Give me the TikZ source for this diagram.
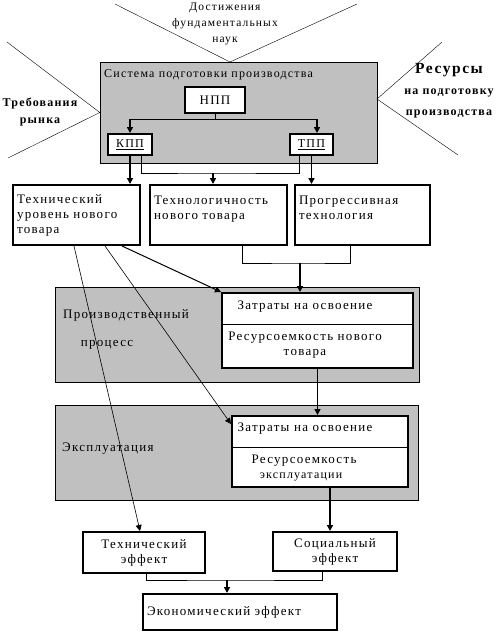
\documentclass[tikz,border=0pt]{standalone}
\usepackage{fontspec}
\setmainfont{Liberation Serif}[LetterSpace=10]
\usetikzlibrary{arrows.meta}
\definecolor{panelgray}{RGB}{192,192,192}
\newcommand{\boxfont}{\fontsize{13}{15}\selectfont}
\newcommand{\titlefont}{\fontsize{12}{16}\selectfont}
\tikzstyle{panel}=[draw, thin, fill=panelgray, inner sep=0pt]
\tikzstyle{block}=[draw, line width=2pt, fill=white, inner sep=4pt, align=left, font=\boxfont]
\tikzstyle{caption}=[inner sep=0pt, font=\boxfont]
\tikzstyle{feed}=[line width=1.6pt, -{Triangle[length=6pt,width=6pt]}]
\tikzstyle{wire}=[thin]
\tikzstyle{ray}=[thin]

\begin{document}
\begin{tikzpicture}[x=1pt, y=-1pt]
  \useasboundingbox (0,0) rectangle (497,632);
  % outside influences
  \coordinate (sciL) at (115,4);
  \coordinate (sciR) at (357,4);
  \coordinate (sciapex) at (230,62);
  \coordinate (mktU) at (7,42);
  \coordinate (mktD) at (8,158);
  \coordinate (resU) at (442,42);
  \coordinate (resD) at (458,155);
  \coordinate (resapex) at (377,99);
  \node[caption, font=\fontsize{11.5}{16}\selectfont, align=center] (sci) at (225,24)
    {Достижения\\фундаментальных\\наук};
  \node[caption, font=\fontsize{12}{17}\selectfont\bfseries, align=center] (mkt) at (40,112)
    {Требования\\рынка};
  \node[caption, font=\fontsize{12}{21}\selectfont\bfseries, align=center] (res) at (449,91)
    {{\fontsize{15.5}{21}\selectfont Ресурсы}\\на подготовку\\производства};
  % panels
  \node[panel, minimum width=277, minimum height=101] (sys) at (238.5,112.5) {};
  \node[panel, minimum width=364, minimum height=95] (prod) at (237,334.5) {};
  \node[panel, minimum width=363, minimum height=95] (expl) at (236.5,452.5) {};
  \draw[ray] (sciL) -- (sciapex) -- (sciR);
  \draw[ray] (mktU) -- (sys.west) -- (mktD);
  \draw[ray] (resU) -- (resapex) -- (resD);
  \node[caption, font=\titlefont, anchor=west] (systitle) at (104,75) {Система подготовки производства};
  \node[caption] (prodtitle) at (126,315) {Производственный};
  \node[caption] (prodsub) at (107,345) {процесс};
  \node[caption, anchor=west] (expltitle) at (62,449) {Эксплуатация};
  % preparation units
  \node[block, align=center, minimum width=60, minimum height=26] (npp) at (215,100) {НПП};
  \node[block, align=center, font=\titlefont, minimum width=44, minimum height=21, inner sep=1pt] (kpp) at (130,144.5) {\underline{КПП}};
  \node[block, align=center, font=\titlefont, minimum width=43, minimum height=21, inner sep=1pt] (tpp) at (311.5,144.5) {\underline{ТПП}};
  % product properties
  \node[block, text width=119, minimum height=60] (techlvl) at (76.5,215)
    {Технический\\уровень нового\\товара};
  \node[block, text width=129, minimum height=60] (techn) at (218.5,215)
    {Технологичность\\нового товара\\~};
  \node[block, text width=127, minimum height=60] (progr) at (362.5,215)
    {Прогрессивная\\технология\\~};
  % costs
  \node[block, minimum width=191, minimum height=75] (cost1) at (317.5,330.5) {};
  \node[caption] (cost1a) at (305,307) {Затраты на освоение};
  \node[caption, align=center] (cost1b) at (305,345) {Ресурсоемкость нового\\товара};
  \coordinate (cut1) at (0,324);
  \draw[wire] (cost1.west |- cut1) -- (cost1.east |- cut1);
  \node[block, minimum width=176, minimum height=71] (cost2) at (320,451.5) {};
  \node[caption] (cost2a) at (305,429) {Затраты на освоение};
  \node[caption] (cost2b) at (304,461) {Ресурсоемкость};
  \node[caption, font=\titlefont] (cost2c) at (301,477) {эксплуатации};
  \coordinate (cut2) at (0,447);
  \draw[wire] (cost2.west |- cut2) -- (cost2.east |- cut2);
  % effects
  \node[block, align=center, minimum width=122, minimum height=41] (teff) at (144,552.5)
    {Технический\\эффект};
  \node[block, align=center, minimum width=124, minimum height=39] (seff) at (335,551.5)
    {Социальный\\эффект};
  \node[block, text width=186, minimum height=36] (econ) at (240,612)
    {Экономический эффект};
  % connectors
  \coordinate (fork1) at (215,119);
  \coordinate (tppdrop) at (317,119);
  \draw[wire] (npp.south) -- (fork1);
  \draw[wire] (kpp.north |- fork1) -- (tppdrop);
  \draw[feed] (kpp.north |- fork1) -- (kpp.north);
  \draw[feed] (tppdrop) -- (tppdrop |- tpp.north);
  \draw[feed] (kpp.south) -- (kpp.south |- techlvl.north);
  \draw[feed] (tpp.south) -- (tpp.south |- progr.north);
  \coordinate (fork2) at (213,173);
  \draw[wire] ([xshift=11pt]kpp.south) |- (fork2) -| ([xshift=-12pt]tpp.south);
  \draw[feed] (fork2) -- (fork2 |- techn.north);
  \coordinate (fork3) at (300,263);
  \draw[wire] ([xshift=23.5pt]techn.south) |- (fork3) -| ([xshift=-12.5pt]progr.south);
  \draw[feed] (fork3) -- (fork3 |- cost1.north);
  \draw[feed] (cost1.south) -- (cost1.south |- cost2.north);
  \coordinate (c2out) at ([xshift=10pt]cost2.south);
  \draw[feed] (c2out) -- (c2out |- seff.north);
  \coordinate (fork4) at (227,580);
  \draw[wire] ([xshift=2pt]teff.south) |- (fork4) -| ([xshift=-13pt]seff.south);
  \draw[feed] (fork4) -- (fork4 |- econ.north);
  \draw[feed, line width=0.6pt] ([xshift=-2.5pt]techlvl.south) -- ([xshift=-4pt]teff.north);
  \draw[feed, line width=0.6pt] ([xshift=28.5pt]techlvl.south) -- ([yshift=-9pt]cost2.north west);
  \draw[feed, line width=1pt] ([xshift=45.5pt]techlvl.south) -- (cost1.north west);
\end{tikzpicture}
\end{document}
